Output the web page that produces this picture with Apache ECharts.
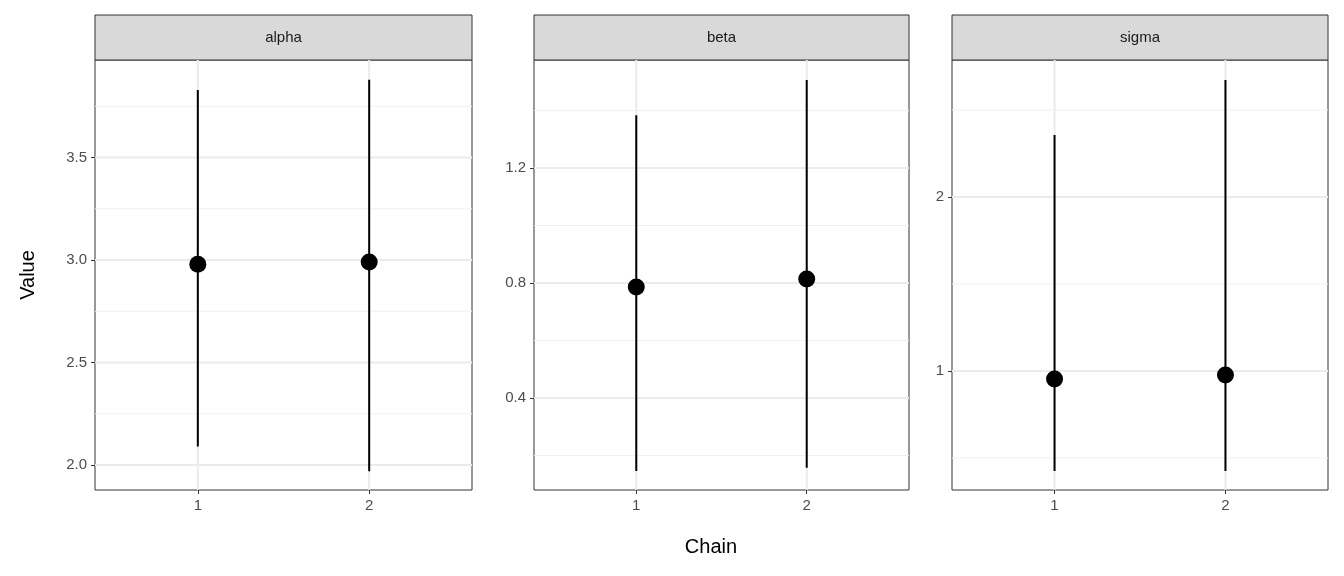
<!DOCTYPE html>
<html><head><meta charset="utf-8">
<script src="https://cdn.jsdelivr.net/npm/echarts@6/dist/echarts.min.js"></script>
<style>html,body{margin:0;background:#fff}#c{width:1344px;height:576px}</style>
</head><body><div id="c"></div>
<script>
const params = ['alpha', 'beta', 'sigma'];
const chains = [1, 2];
const means = [[2.98, 2.99], [0.786, 0.814], [0.954, 0.977]];
const lows = [[2.09, 1.97], [0.146, 0.157], [0.425, 0.425]];
const highs = [[3.83, 3.88], [1.384, 1.506], [2.356, 2.672]];
const yMin = [1.878, 0.08, 0.316];
const yMax = [3.976, 1.576, 2.787];
const majorTicks = [[2.0, 2.5, 3.0, 3.5], [0.4, 0.8, 1.2], [1, 2]];
const minorTicks = [[2.25, 2.75, 3.25, 3.75], [0.2, 0.6, 1.0, 1.4], [0.5, 1.5, 2.5]];
const tickLabels = [['2.0', '2.5', '3.0', '3.5'], ['0.4', '0.8', '1.2'], ['1', '2']];

const lefts = [95, 534, 952];
const widths = [377, 375, 376];
const grids = [], xAxes = [], yAxes = [], series = [], graphic = [];
const font = 'Liberation Sans, Arial, sans-serif';

function segment(i, data, color, width, z) {
  series.push({
    type: 'line', xAxisIndex: i, yAxisIndex: i, z: z, symbol: 'none', silent: true,
    lineStyle: { color: color, width: width }, emphasis: { disabled: true }, data: data
  });
}

params.forEach((p, i) => {
  grids.push({ left: lefts[i], top: 60, width: widths[i], height: 430, show: true, borderColor: '#333', borderWidth: 1 });
  xAxes.push({
    gridIndex: i, type: 'value', min: 0.4, max: 2.6,
    axisLine: { show: false }, splitLine: { show: false },
    axisTick: { show: true, customValues: chains, length: 4, lineStyle: { color: '#333' } },
    axisLabel: { customValues: chains, color: '#4d4d4d', fontSize: 15, fontFamily: font, margin: 8 }
  });
  yAxes.push({
    gridIndex: i, type: 'value', min: yMin[i], max: yMax[i],
    axisLine: { show: false }, splitLine: { show: false },
    axisTick: { show: true, customValues: majorTicks[i], length: 4, lineStyle: { color: '#333' } },
    axisLabel: { customValues: majorTicks[i], color: '#4d4d4d', fontSize: 15, fontFamily: font, margin: 8,
      formatter: v => tickLabels[i][majorTicks[i].indexOf(v)] || v }
  });
  minorTicks[i].forEach(v => segment(i, [[0.4, v], [2.6, v]], '#f0f0f0', 1, 1));
  majorTicks[i].forEach(v => segment(i, [[0.4, v], [2.6, v]], '#ebebeb', 2, 1));
  chains.forEach(c => segment(i, [[c, yMin[i]], [c, yMax[i]]], '#ebebeb', 2, 1));
  chains.forEach((c, j) => segment(i, [[c, lows[i][j]], [c, highs[i][j]]], '#000', 2, 5));
  series.push({
    type: 'scatter', xAxisIndex: i, yAxisIndex: i, z: 6, symbolSize: 17,
    itemStyle: { color: '#000', opacity: 1 },
    data: chains.map((c, j) => [c, means[i][j]])
  });
  graphic.push({
    type: 'rect', shape: { x: lefts[i], y: 15, width: widths[i], height: 45 },
    style: { fill: '#d9d9d9', stroke: '#333', lineWidth: 1 }
  });
  graphic.push({
    type: 'text', x: lefts[i] + widths[i] / 2, y: 37.5,
    style: { text: p, fill: '#1a1a1a', fontSize: 15, fontFamily: font, align: 'center', verticalAlign: 'middle' }
  });
});

graphic.push({
  type: 'text', x: 28, y: 275, rotation: Math.PI / 2,
  style: { text: 'Value', fill: '#000', fontSize: 20, fontFamily: font, align: 'center', verticalAlign: 'middle' }
});
graphic.push({
  type: 'text', x: 711, y: 547,
  style: { text: 'Chain', fill: '#000', fontSize: 20, fontFamily: font, align: 'center', verticalAlign: 'middle' }
});

const chart = echarts.init(document.getElementById('c'));
chart.setOption({ animation: false, grid: grids, xAxis: xAxes, yAxis: yAxes, series, graphic });
</script>
</body></html>
